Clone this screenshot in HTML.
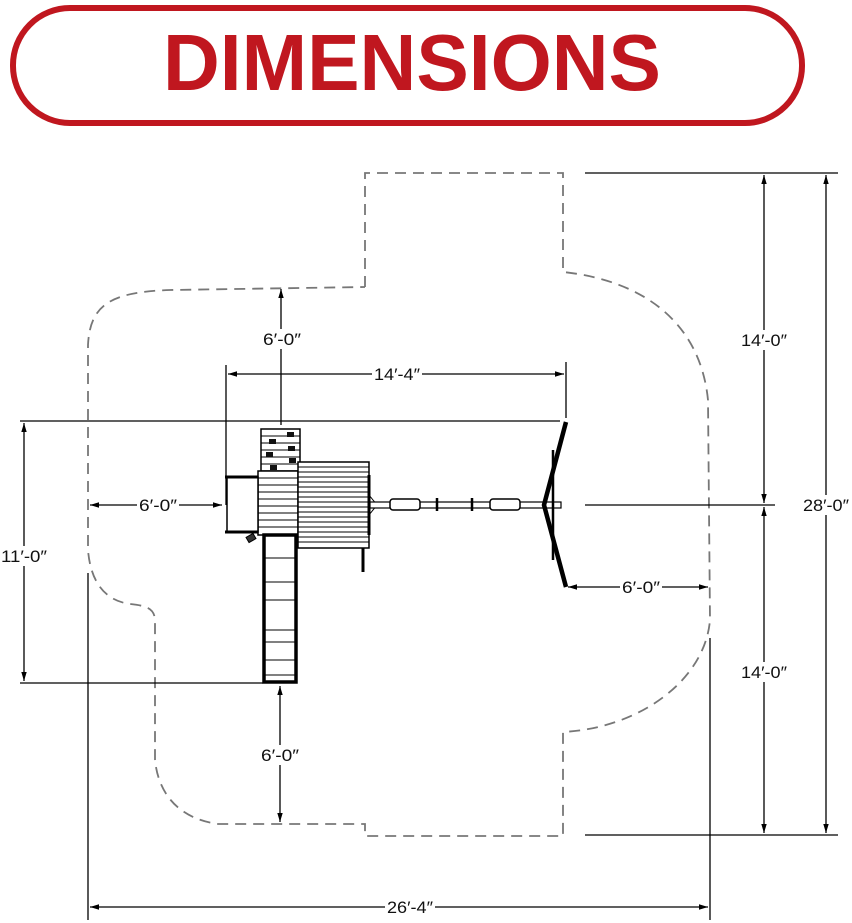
<!DOCTYPE html>
<html><head><meta charset="utf-8"><style>
html,body{margin:0;padding:0;background:#fff;}
svg{display:block;}
text{font-family:"Liberation Sans",sans-serif;}
</style></head><body>
<svg width="852" height="923" viewBox="0 0 852 923" xmlns="http://www.w3.org/2000/svg">
<defs>
<marker id="a" viewBox="0 0 10 10" refX="10" refY="5" markerWidth="7" markerHeight="7" orient="auto-start-reverse"><path d="M0,2 L10,5 L0,8 z" fill="#000"/></marker>
</defs>
<!-- header -->
<rect x="13" y="8" width="789" height="115" rx="57" ry="57" fill="#fff" stroke="#c0171f" stroke-width="6"/>
<text x="412" y="90" font-size="80" font-weight="bold" fill="#c0171f" text-anchor="middle" textLength="498" lengthAdjust="spacingAndGlyphs">DIMENSIONS</text>

<!-- dashed boundary -->
<path d="M365,287 L365,173 L563,173 L563,272 C640,280 700,320 708,400 L710,620 C705,680 640,728 563,732 L563,836 L365,836 L365,824 L218,824 C175,818 158,790 155,760 L155,622 C155,610 150,606 130,604 C100,600 90,575 88,550 L88,345 C90,305 110,292 170,290 L365,287"
 fill="none" stroke="#777" stroke-width="1.8" stroke-dasharray="11,7"/>

<g stroke="#000" stroke-width="1.3" fill="none">
<!-- right dims -->
<line x1="585" y1="173" x2="838" y2="173"/>
<line x1="585" y1="505" x2="775" y2="505"/>
<line x1="585" y1="835" x2="838" y2="835"/>
<line x1="764" y1="175" x2="764" y2="503" marker-start="url(#a)" marker-end="url(#a)"/>
<line x1="764" y1="507" x2="764" y2="833" marker-start="url(#a)" marker-end="url(#a)"/>
<line x1="826" y1="175" x2="826" y2="833" marker-start="url(#a)" marker-end="url(#a)"/>
<!-- 11'-0" -->
<line x1="20" y1="421" x2="560" y2="421"/>
<line x1="20" y1="683" x2="263" y2="683"/>
<line x1="24" y1="423" x2="24" y2="681" marker-start="url(#a)" marker-end="url(#a)"/>
<!-- 14'-4" -->
<line x1="226" y1="365" x2="226" y2="505"/>
<line x1="566" y1="362" x2="566" y2="418"/>
<line x1="228" y1="374" x2="564" y2="374" marker-start="url(#a)" marker-end="url(#a)"/>
<!-- 6'-0" top -->
<line x1="281" y1="289" x2="281" y2="425" marker-start="url(#a)"/>
<!-- 6'-0" left -->
<line x1="90" y1="505" x2="222" y2="505" marker-start="url(#a)" marker-end="url(#a)"/>
<!-- 6'-0" right -->
<line x1="568" y1="587" x2="708" y2="587" marker-start="url(#a)" marker-end="url(#a)"/>
<!-- 6'-0" bottom -->
<line x1="280" y1="686" x2="280" y2="822" marker-start="url(#a)" marker-end="url(#a)"/>
<!-- 26'-4" -->
<line x1="88" y1="573" x2="88" y2="920"/>
<line x1="710" y1="638" x2="710" y2="920"/>
<line x1="90" y1="907" x2="708" y2="907" marker-start="url(#a)" marker-end="url(#a)"/>
</g>

<!-- labels -->
<g font-size="17" fill="#111" text-anchor="middle">
<rect x="740" y="330" width="48" height="20" fill="#fff"/><text x="764" y="346" textLength="46" lengthAdjust="spacingAndGlyphs">14′-0″</text>
<rect x="740" y="662" width="48" height="20" fill="#fff"/><text x="764" y="678" textLength="46" lengthAdjust="spacingAndGlyphs">14′-0″</text>
<rect x="800" y="495" width="52" height="20" fill="#fff"/><text x="826" y="511" textLength="46" lengthAdjust="spacingAndGlyphs">28′-0″</text>
<rect x="0" y="546" width="48" height="20" fill="#fff"/><text x="24" y="562" textLength="46" lengthAdjust="spacingAndGlyphs">11′-0″</text>
<rect x="372" y="364" width="50" height="20" fill="#fff"/><text x="397" y="380" textLength="46" lengthAdjust="spacingAndGlyphs">14′-4″</text>
<rect x="262" y="329" width="40" height="20" fill="#fff"/><text x="282" y="345" textLength="38" lengthAdjust="spacingAndGlyphs">6′-0″</text>
<rect x="137" y="495" width="42" height="20" fill="#fff"/><text x="158" y="511" textLength="38" lengthAdjust="spacingAndGlyphs">6′-0″</text>
<rect x="620" y="577" width="42" height="20" fill="#fff"/><text x="641" y="593" textLength="38" lengthAdjust="spacingAndGlyphs">6′-0″</text>
<rect x="260" y="745" width="40" height="20" fill="#fff"/><text x="280" y="761" textLength="38" lengthAdjust="spacingAndGlyphs">6′-0″</text>
<rect x="385" y="897" width="50" height="20" fill="#fff"/><text x="410" y="913" textLength="46" lengthAdjust="spacingAndGlyphs">26′-4″</text>
</g>

<!-- playset -->
<g stroke="#000" fill="#fff">
<!-- tower top -->
<rect x="261" y="429" width="39" height="42" stroke-width="1.5"/>
<g stroke-width="1"><line x1="261" y1="436" x2="300" y2="436"/><line x1="261" y1="443" x2="300" y2="443"/><line x1="261" y1="450" x2="300" y2="450"/><line x1="261" y1="457" x2="300" y2="457"/><line x1="261" y1="464" x2="300" y2="464"/></g>
<g fill="#111" stroke="none"><rect x="287" y="432" width="7" height="5"/><rect x="269" y="439" width="7" height="5"/><rect x="288" y="446" width="7" height="5"/><rect x="266" y="452" width="7" height="5"/><rect x="289" y="458" width="7" height="5"/><rect x="270" y="465" width="7" height="5"/></g>
<!-- deck -->
<rect x="258" y="471" width="40" height="64" stroke-width="1.5"/>
<g stroke-width="1"><line x1="258" y1="478" x2="298" y2="478"/><line x1="258" y1="485" x2="298" y2="485"/><line x1="258" y1="492" x2="298" y2="492"/><line x1="258" y1="499" x2="298" y2="499"/><line x1="258" y1="506" x2="298" y2="506"/><line x1="258" y1="513" x2="298" y2="513"/><line x1="258" y1="520" x2="298" y2="520"/><line x1="258" y1="527" x2="298" y2="527"/></g>
<!-- left box -->
<rect x="227" y="477" width="31" height="55" stroke-width="1.5"/>
<line x1="225" y1="477" x2="258" y2="477" stroke-width="3"/>
<line x1="225" y1="532" x2="258" y2="532" stroke-width="3"/>
<rect x="247" y="535" width="8" height="6" fill="#333" transform="rotate(-30 251 538)"/>
<!-- roof -->
<rect x="298" y="462" width="71" height="86" stroke-width="1.5"/>
<g stroke-width="0.9">
<line x1="298" y1="467" x2="369" y2="467"/><line x1="298" y1="472" x2="369" y2="472"/><line x1="298" y1="477" x2="369" y2="477"/><line x1="298" y1="482" x2="369" y2="482"/><line x1="298" y1="487" x2="369" y2="487"/><line x1="298" y1="492" x2="369" y2="492"/><line x1="298" y1="497" x2="369" y2="497"/><line x1="298" y1="502" x2="369" y2="502"/><line x1="298" y1="507" x2="369" y2="507"/><line x1="298" y1="512" x2="369" y2="512"/><line x1="298" y1="517" x2="369" y2="517"/><line x1="298" y1="522" x2="369" y2="522"/><line x1="298" y1="527" x2="369" y2="527"/><line x1="298" y1="532" x2="369" y2="532"/><line x1="298" y1="537" x2="369" y2="537"/><line x1="298" y1="542" x2="369" y2="542"/>
</g>
<line x1="369" y1="475" x2="369" y2="535" stroke-width="3"/>
<!-- pole -->
<line x1="363" y1="548" x2="363" y2="572" stroke-width="3"/>
<!-- slide -->
<rect x="264" y="535" width="32" height="147" stroke-width="3.5"/>
<g stroke-width="1"><line x1="264" y1="558" x2="296" y2="558"/><line x1="264" y1="582" x2="296" y2="582"/><line x1="264" y1="600" x2="296" y2="600"/><line x1="264" y1="630" x2="296" y2="630"/><line x1="264" y1="642" x2="296" y2="642"/><line x1="264" y1="660" x2="296" y2="660"/><line x1="264" y1="675" x2="296" y2="675"/></g>
<!-- swing beam -->
<path d="M369,495 L377,505 L369,515" fill="none" stroke-width="1"/>
<rect x="370" y="502" width="191" height="6" stroke-width="1.2"/>
<rect x="390" y="499" width="30" height="11" rx="3" stroke-width="1.5"/>
<rect x="490" y="499" width="30" height="11" rx="3" stroke-width="1.5"/>
<line x1="437" y1="498" x2="437" y2="511" stroke-width="2.5"/>
<line x1="472" y1="498" x2="472" y2="511" stroke-width="2.5"/>
<!-- A-frame -->
<path d="M566,422 L544,505 L566,587" fill="none" stroke-width="4.5"/>
<line x1="553" y1="450" x2="553" y2="560" stroke-width="2.5"/>
</g>
</svg>
</body></html>
